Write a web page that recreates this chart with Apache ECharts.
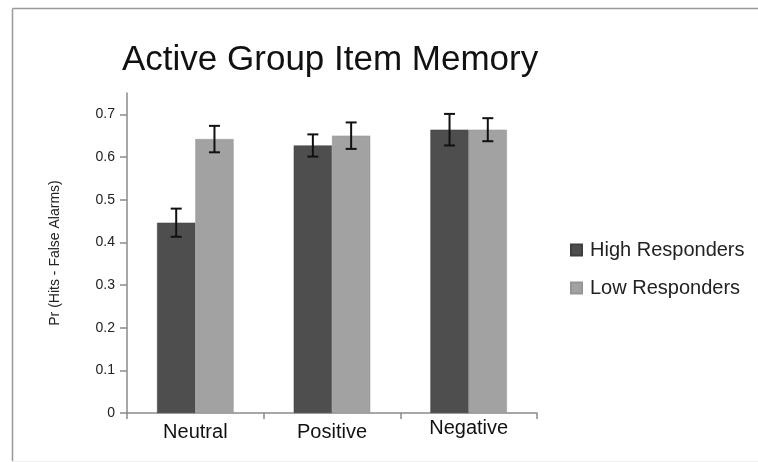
<!DOCTYPE html>
<html>
<head>
<meta charset="utf-8">
<script src="https://cdn.jsdelivr.net/npm/echarts@6/dist/echarts.min.js"></script>
<style>
html,body{margin:0;padding:0;background:#fff;}
#chart{width:758px;height:462px;}
</style>
</head>
<body>
<div id="chart"></div>
<script>
const titleText = 'Active Group Item Memory';
const yAxisName = 'Pr (Hits - False Alarms)';
const categories = ['Neutral', 'Positive', 'Negative'];
const seriesNames = ['High Responders', 'Low Responders'];
const highValues = [0.446, 0.627, 0.664];
const lowValues = [0.642, 0.650, 0.664];
const highErrors = [0.033, 0.026, 0.037];
const lowErrors = [0.031, 0.031, 0.027];
const yTicks = [0, 0.1, 0.2, 0.3, 0.4, 0.5, 0.6, 0.7];

const FONT = 'Liberation Sans, Arial, sans-serif';
const BAR_W = 0.28;
const colors = ['#4e4e4e', '#a2a2a2'];

function errorSeries(name, values, errors, side) {
  return {
    type: 'custom',
    name: name + ' error',
    z: 10,
    silent: true,
    data: values.map((v, i) => [i, v - errors[i], v + errors[i]]),
    renderItem: function (params, api) {
      const idx = api.value(0);
      const band = api.size([1, 0])[0];
      const lo = api.coord([idx, api.value(1)]);
      const hi = api.coord([idx, api.value(2)]);
      const x = lo[0] + side * band * BAR_W / 2;
      const cap = 5.5;
      const style = { stroke: '#111', lineWidth: 2 };
      return {
        type: 'group',
        children: [
          { type: 'line', shape: { x1: x, y1: lo[1], x2: x, y2: hi[1] }, style: style },
          { type: 'line', shape: { x1: x - cap, y1: lo[1], x2: x + cap, y2: lo[1] }, style: style },
          { type: 'line', shape: { x1: x - cap, y1: hi[1], x2: x + cap, y2: hi[1] }, style: style }
        ]
      };
    }
  };
}

const xData = categories.map(function (c, i) {
  return i === 2 ? { value: c, textStyle: { lineHeight: 13 } } : c;
});

const chart = echarts.init(document.getElementById('chart'), null, { renderer: 'canvas' });
chart.setOption({
  animation: false,
  backgroundColor: '#fff',
  textStyle: { fontFamily: FONT },
  title: {
    text: titleText,
    left: 117,
    top: 38,
    textStyle: { fontFamily: FONT, fontSize: 35, fontWeight: 'normal', color: '#111' }
  },
  graphic: [
    { type: 'line', shape: { x1: 12.5, y1: 8.5, x2: 758, y2: 8.5 }, style: { stroke: '#999', lineWidth: 1.5 } },
    { type: 'line', shape: { x1: 12.5, y1: 8.5, x2: 12.5, y2: 461 }, style: { stroke: '#999', lineWidth: 1.5 } },
    { type: 'line', shape: { x1: 12.5, y1: 461.5, x2: 758, y2: 461.5 }, style: { stroke: '#eee', lineWidth: 1 } }
  ],
  legend: {
    orient: 'vertical',
    left: 570,
    top: 240,
    padding: 0,
    itemWidth: 11,
    itemHeight: 11,
    itemGap: 18,
    icon: 'rect',
    data: seriesNames,
    textStyle: { fontFamily: FONT, fontSize: 20, color: '#222', padding: [0, 0, 0, 3] }
  },
  grid: { left: 127, right: 221, top: 93, bottom: 49 },
  xAxis: {
    type: 'category',
    data: xData,
    axisLine: { lineStyle: { color: '#8a8a8a', width: 1.5 } },
    axisTick: { show: true, length: 6, lineStyle: { color: '#8a8a8a', width: 1.5 } },
    axisLabel: { fontFamily: FONT, fontSize: 20, color: '#111', margin: 9 }
  },
  yAxis: {
    type: 'value',
    min: 0,
    max: 0.75,
    name: yAxisName,
    nameLocation: 'middle',
    nameGap: 65,
    nameRotate: 90,
    nameTextStyle: { fontFamily: FONT, fontSize: 14, color: '#222' },
    splitLine: { show: false },
    axisLine: { show: true, lineStyle: { color: '#8a8a8a', width: 1.5 } },
    axisTick: { show: true, length: 7, customValues: yTicks, lineStyle: { color: '#8a8a8a', width: 1.5 } },
    axisLabel: {
      customValues: yTicks,
      fontFamily: FONT, fontSize: 14, color: '#222', margin: 12,
      formatter: function (v) { return v === 0 ? '0' : v.toFixed(1); }
    }
  },
  series: [
    { type: 'bar', name: seriesNames[0], data: highValues, barWidth: (BAR_W * 100) + '%', barGap: '0%',
      itemStyle: { color: colors[0], borderColor: '#3e3e3e', borderWidth: 0.5 } },
    { type: 'bar', name: seriesNames[1], data: lowValues, barWidth: (BAR_W * 100) + '%', barGap: '0%',
      itemStyle: { color: colors[1], borderColor: '#959595', borderWidth: 0.5 } },
    errorSeries(seriesNames[0], highValues, highErrors, -1),
    errorSeries(seriesNames[1], lowValues, lowErrors, 1)
  ]
});
</script>
</body>
</html>
